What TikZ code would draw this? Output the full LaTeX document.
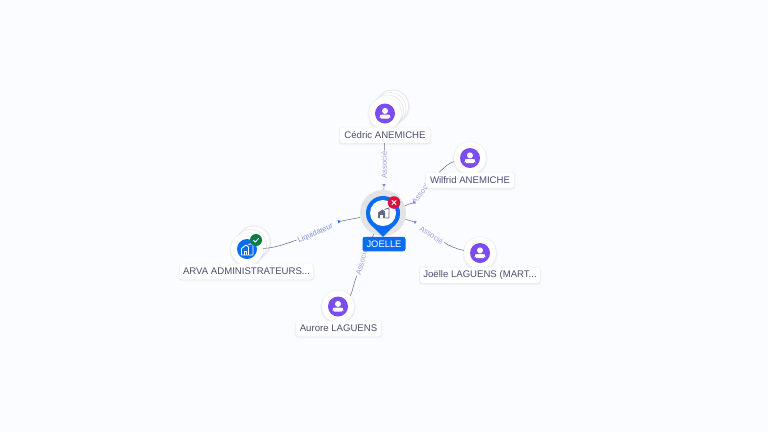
\documentclass[tikz,border=0pt]{standalone}
\usepackage{fontspec}
\setmainfont{Liberation Sans}
\usetikzlibrary{arrows.meta,calc,shapes.geometric}
\definecolor{bgc}{HTML}{FBFCFF}
\definecolor{txt}{HTML}{4A4C74}
\definecolor{purp}{HTML}{7C4DEE}
\definecolor{blu}{HTML}{0A6CF0}
\definecolor{lnk}{HTML}{6E7088}
\definecolor{asso}{HTML}{A79AEC}
\definecolor{liq}{HTML}{7F8DE8}
\definecolor{redb}{HTML}{D9123F}
\definecolor{grnb}{HTML}{0E7B45}
\definecolor{halo}{HTML}{E2E3E6}
\tikzset{
  disc/.style={circle,fill=white,minimum size=32pt,inner sep=0pt},
  backdisc/.style={circle,fill=white,draw=black!10,line width=.5pt,minimum size=32pt,inner sep=0pt},
  caption/.style={fill=white,rounded corners=2.5pt,text=txt,font=\fontsize{9.6}{10}\selectfont,inner sep=0pt,minimum height=15.5pt},
  edgetext/.style={font=\fontsize{7.6}{8}\selectfont,inner sep=1pt},
  conn/.style={draw=lnk,line width=.55pt},
  tipmark/.style={regular polygon,regular polygon sides=3,inner sep=0pt,minimum size=4pt},
}
\newcommand{\halodisc}[3]{%
  \fill[black,opacity=.03] (#1,#2+.8) circle (#3+1.6);
  \fill[black,opacity=.03] (#1,#2+.8) circle (#3+.8);
}
\newcommand{\capshadow}[4]{%
  \fill[black,opacity=.025,rounded corners=3.5pt] (#1-1.5,#2-.5) rectangle (#3+1.5,#4+2.4);
  \fill[black,opacity=.03,rounded corners=3pt] (#1-.7,#2) rectangle (#3+.7,#4+1.4);
}
\newcommand{\personicon}[2]{%
  \fill[purp] (#1,#2) circle (10);
  \fill[white] (#1,#2-2.6) circle (3);
  \fill[white,rounded corners=1.6pt] (#1-5.3,#2+5) -- (#1-5.3,#2+3) .. controls (#1-4.6,#2+1) and (#1+4.6,#2+1) .. (#1+5.3,#2+3) -- (#1+5.3,#2+5) -- cycle;
}
\begin{document}
\begin{tikzpicture}[x=1pt,y=-1pt]
\useasboundingbox (0,0) rectangle (768,432);
\fill[bgc] (0,0) rectangle (768,432);

% Back discs
\halodisc{392.5}{106}{16}
\node[backdisc] at (392.5,106) {};
\node[backdisc] at (390,108.5) {};
\node[backdisc] at (387.5,111) {};
\halodisc{254}{242}{16}
\node[backdisc] at (254,242) {};
\node[backdisc] at (250.5,245.5) {};

% Entity discs
\halodisc{385}{113.5}{16}
\node[disc] (cedric) at (385,113.5) {};
\personicon{385}{113.5}
\halodisc{470}{158}{16}
\node[disc] (wilfrid) at (470,158) {};
\personicon{470}{158}
\halodisc{480}{253}{16}
\node[disc] (joelle) at (480,253) {};
\personicon{480}{253}
\halodisc{338}{306.5}{16}
\node[disc] (aurore) at (338,306.5) {};
\personicon{338}{306.5}
\halodisc{247}{249}{16}
\node[disc] (arva) at (247,249) {};
\fill[blu] (247,249) circle (10);
\draw[white,line width=.9pt,line join=round] (241.5,255) -- (241.5,248.5) -- (246,245) -- (248.5,247) -- (248.5,255) -- cycle;
\draw[white,line width=.9pt,line join=round] (248.5,244.5) -- (253,243.5) -- (253,255) -- (248.5,255);
\draw[white,line width=.8pt] (244,255) -- (244,251.5) -- (246.5,251.5) -- (246.5,255);

% Pin
\fill[halo] (383,213) circle (23);
\node[circle,inner sep=0pt,minimum size=46pt] (pin) at (383,213) {};

% Edge labels
\node[edgetext,text=asso,rotate=90] (e1) at (384,165) {Associé};
\node[edgetext,text=asso,rotate=52] (e2) at (421.5,192) {Associé};
\node[edgetext,text=asso,rotate=-33] (e3) at (431.5,235) {Associé};
\node[edgetext,text=asso,rotate=75] (e4) at (361.5,262) {Associé};
\node[edgetext,text=liq,rotate=23] (e5) at (315.5,233.5) {Liquidateur};

% Arrow marks
\node[tipmark,fill=asso!80!blue,rotate=180] (t1) at (384,185) {};
\node[tipmark,fill=asso!80!blue,rotate=130] (t2) at (414,202.5) {};
\node[tipmark,fill=asso!80!blue,rotate=60] (t3) at (415,222) {};
\node[tipmark,fill=blu,rotate=-75] (t5) at (339,221.5) {};

% Connectors
\draw[conn] (cedric) -- (e1);
\draw[conn] (t1) -- (pin);
\draw[conn] (wilfrid) .. controls (448,163) and (441,170) .. (e2);
\draw[conn] (t2) -- (pin);
\draw[conn] (joelle) .. controls (456,249) and (450,246) .. (e3);
\draw[conn] (t3) -- (pin);
\draw[conn] (aurore) .. controls (352,294) and (353,286) .. (e4);
\draw[conn] (e4) -- (pin);
\draw[conn] (arva) .. controls (275,248) and (285,244) .. (e5);
\draw[conn] (t5) -- (pin);

% Pin body
\fill[blu] (366.4,217) .. controls (368,224) and (377,230) .. (383,237)
  .. controls (389,230) and (398,224) .. (399.6,217) -- cycle;
\fill[blu] (383,213) circle (17);
\fill[white] (383,213) circle (13);
% Building icon
\fill[txt!85] (378,218) -- (378,212.5) -- (382.5,209.5) -- (385,211.5) -- (385,218) -- cycle;
\draw[txt!85,line width=.9pt,line join=round] (384.5,209.5) -- (389,208) -- (389,218) -- (385,218);
\fill[white] (380,218) rectangle (383,214.5);
% Pin label
\node[fill=blu,rounded corners=2.5pt,text=white,font=\fontsize{9.4}{10}\selectfont,minimum width=43pt,minimum height=14.5pt,inner sep=0pt] (pinlabel) at (384,244) {JOELLE};

% Badges
\fill[redb] (394,202.5) circle (6.3);
\draw[white,line width=.8pt] (391.8,200.3) -- (396.2,204.7) (396.2,200.3) -- (391.8,204.7);
\fill[grnb] (256,240) circle (6);
\draw[white,line width=.8pt] (253.5,240.2) -- (255.3,242) -- (258.7,238.3);

% Captions (on top of connectors)
\capshadow{340}{127}{430}{143}
\node[caption,minimum width=90pt] (cedriccap) at (385,135) {Cédric ANEMICHE};
\capshadow{426}{172}{514}{188}
\node[caption,minimum width=88pt] (wilfridcap) at (470,180) {Wilfrid ANEMICHE};
\capshadow{420}{267}{540}{283}
\node[caption,minimum width=120pt] (joellecap) at (480,275) {Joëlle LAGUENS (MART...};
\capshadow{296}{321}{381}{336}
\node[caption,minimum width=85pt] (aurorecap) at (338.5,328.5) {Aurore LAGUENS};
\capshadow{180}{264}{313}{279}
\node[caption,minimum width=133pt] (arvacap) at (246.5,271.5) {ARVA ADMINISTRATEURS...};
\end{tikzpicture}
\end{document}
